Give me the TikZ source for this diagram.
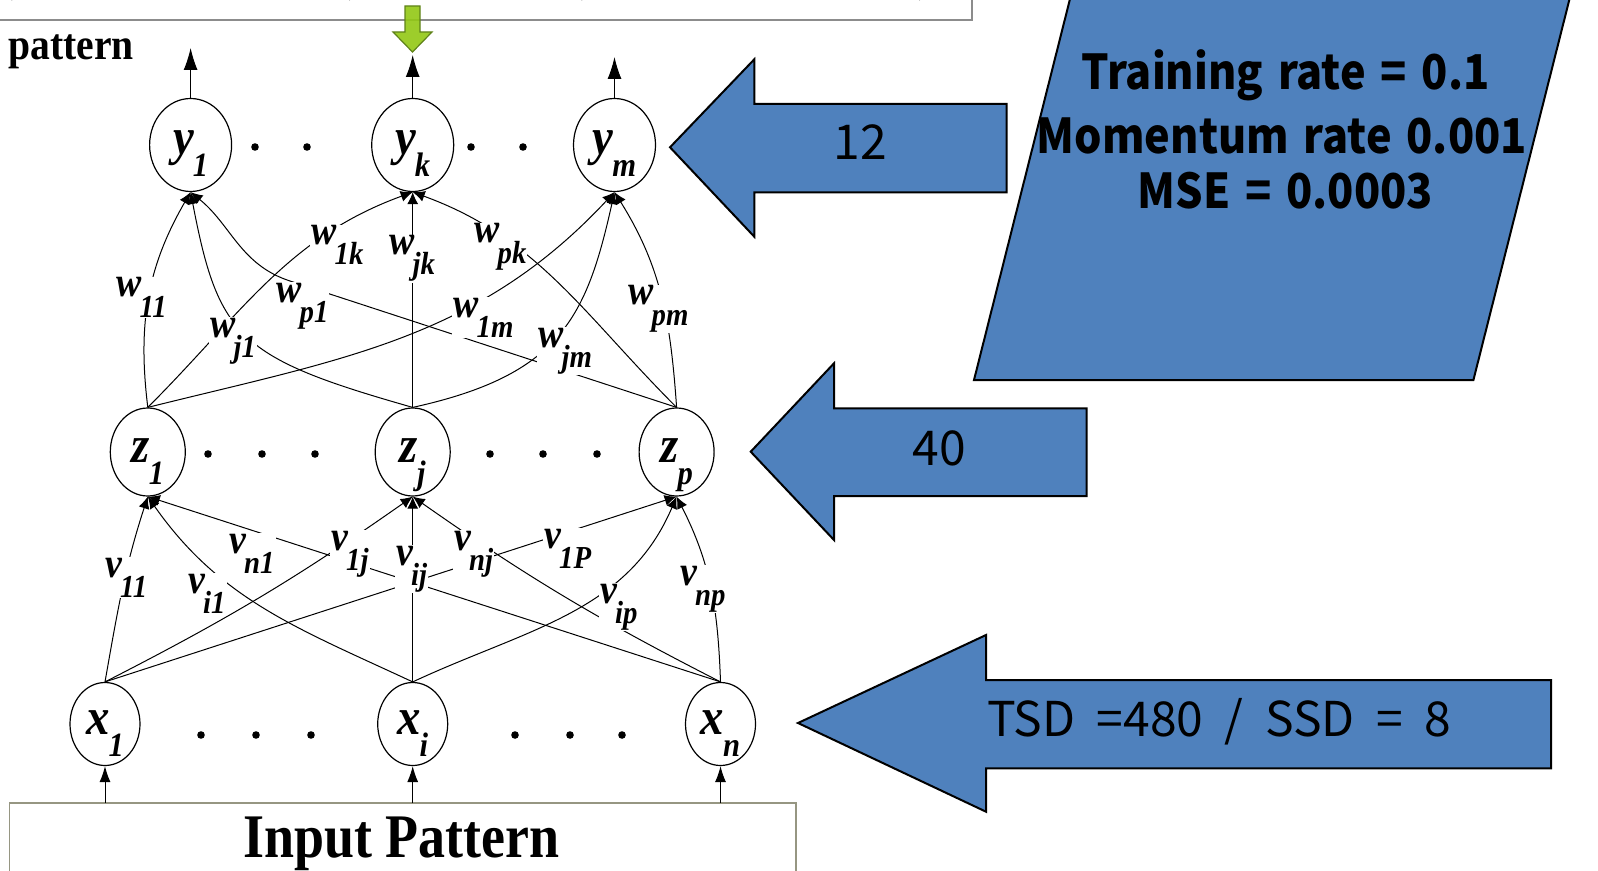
\documentclass[tikz,border=0pt]{standalone}
\usepackage{fontspec}
\setmainfont{Liberation Serif}[FakeStretch=0.9]
\newfontfamily\gothic{Noto Sans CJK JP}[FakeStretch=1.0, WordSpace=2]
\newfontfamily\gothicb{Noto Sans CJK JP}[FakeStretch=0.9, WordSpace=1.5]
\usetikzlibrary{arrows.meta,shapes.geometric}
\definecolor{officeblue}{RGB}{79,129,189}
\definecolor{limegreen}{RGB}{146,200,20}
\definecolor{limeedge}{RGB}{95,130,25}
\definecolor{boxgray}{RGB}{140,140,140}
\definecolor{inboxcol}{RGB}{150,150,130}
\newcommand\nlab[2]{{\fontsize{26}{26}\selectfont\bfseries\itshape #1}\kern-0.5pt\raisebox{-11pt}{\fontsize{17}{17}\selectfont\bfseries\itshape #2}}
\newcommand\elab[2]{{\fontsize{21}{21}\selectfont\bfseries\itshape #1}\kern-1pt\raisebox{-10pt}{\fontsize{16}{16}\selectfont\bfseries\itshape #2}}
\newcommand\cm{\hspace{7pt},}
\begin{document}
\begin{tikzpicture}[x=0.5pt,y=0.5pt,
  neuron/.style={draw, ellipse, line width=0.6pt, inner sep=0pt, text height=16pt, text depth=6pt},
  ynode/.style={neuron, minimum width=41pt, minimum height=46.5pt},
  znode/.style={neuron, minimum width=37.5pt, minimum height=44pt},
  xnode/.style={neuron, minimum width=35pt, minimum height=41.5pt},
  edge/.style={line width=0.5pt, -{Latex[length=6pt,width=5.5pt]}},
  outarrow/.style={line width=0.5pt, -{Latex[length=11pt,width=7pt]}},
  inarrow/.style={line width=0.5pt, -{Latex[length=8pt,width=5.5pt]}},
  wlab/.style={fill=white, inner sep=0.5pt, anchor=base west},
  blueshape/.style={fill=officeblue, draw=black, line width=1pt, line join=miter},
  gtext/.style={font=\gothic\fontsize{24}{24}\selectfont, anchor=base, inner sep=0pt},
  gbtext/.style={font=\gothicb\bfseries\fontsize{24}{24}\selectfont, anchor=base, inner sep=0pt},
  toptext/.style={anchor=base, inner sep=0pt, font=\fontsize{20}{20}\selectfont\itshape},
]
\useasboundingbox (0,0) rectangle (1598,-871);
\clip (0,0) rectangle (1598,-871);

% top box (cut off)
\draw[boxgray, line width=1.2pt] (-10,40) rectangle (972,-20);
\node[toptext] (topL) at (184,7) {(\cm\cm\cm\cm\cm\cm\cm\cm\cm\cm\cm\cm\cm\cm\hspace{7pt})};
\node[toptext] (topR) at (754,7) {(\cm\cm\cm\cm\cm\cm\cm\cm\cm\cm\cm\cm\cm\cm\hspace{7pt})};

\node[anchor=base west, inner sep=0pt, font=\fontsize{22}{22}\selectfont\bfseries] (pat) at (8,-60) {pattern};

% neurons
\node[ynode] (y1) at (190.6,-145) {\nlab{y}{1}};
\node[ynode] (yk) at (412.7,-145) {\nlab{y}{k}};
\node[ynode] (ym) at (614.5,-145) {\nlab{y}{m}};
\node[znode] (z1) at (147.8,-452) {\nlab{z}{1}};
\node[znode] (zj) at (412.7,-452) {\nlab{z}{j}};
\node[znode] (zp) at (676.6,-452) {\nlab{z}{p}};
\node[xnode] (x1) at (105,-724) {\nlab{x}{1}};
\node[xnode] (xi) at (412.7,-724) {\nlab{x}{i}};
\node[xnode] (xn) at (720.5,-724) {\nlab{x}{n}};

% dots
\foreach \px in {255,307} \fill (\px,-147) circle[radius=1.9pt];
\foreach \px in {471,523} \fill (\px,-147) circle[radius=1.9pt];
\foreach \px in {208,262,315,490,543,597} \fill (\px,-454) circle[radius=1.9pt];
\foreach \px in {201,256,311,515,570,622} \fill (\px,-735) circle[radius=1.9pt];

% edges x -> z
\draw[edge] (x1.north) to[out=80,in=-108] (z1.south);
\draw[edge] (xi.north) to[out=155,in=-55] (z1.south);
\draw[edge] (xn.north) -- (z1.south);
\draw[edge] (x1.north) to[bend right=4] (zj.south);
\draw[edge] (xi.north) -- (zj.south);
\draw[edge] (xn.north) to[bend left=4] (zj.south);
\draw[edge] (x1.north) -- (zp.south);
\draw[edge] (xi.north) to[out=25,in=-113] (zp.south);
\draw[edge] (xn.north) to[out=92,in=-63] (zp.south);

% edges z -> y
\draw[edge] (z1.north) to[out=97,in=-120] (y1.south);
\draw[edge] (zj.north) .. controls (239,-358) and (218.5,-338) .. (y1.south);
\coordinate (bp1) at (290,-281);
\draw[edge] (zp.north) -- (bp1) to[out=162,in=-39] (y1.south);
\draw[edge] (z1.north) to[out=45,in=-160] (yk.south);
\draw[edge] (zj.north) -- (yk.south);
\draw[edge] (zp.north) to[out=135,in=-20] (yk.south);
\draw[edge] (z1.north) to[out=14,in=-133] (ym.south);
\draw[edge] (zj.north) .. controls (560,-375) and (586.4,-318) .. (ym.south);
\draw[edge] (zp.north) to[out=94,in=-58] (ym.south);

% weight labels
\node[wlab] (w11) at (115,-297) {\elab{w}{11}};
\node[wlab] (wj1) at (209,-337) {\elab{w}{j1}};
\node[wlab] (wp1) at (275,-302) {\elab{w}{p1}};
\node[wlab] (w1k) at (310,-245) {\elab{w}{1k}};
\node[wlab] (wjk) at (388,-255) {\elab{w}{jk}};
\node[wlab] (wpk) at (473,-243) {\elab{w}{pk}};
\node[wlab] (w1m) at (452,-317) {\elab{w}{1m}};
\node[wlab] (wjm) at (537,-347) {\elab{w}{jm}};
\node[wlab] (wpm) at (627,-305) {\elab{w}{pm}};
\node[wlab] (v11) at (104,-577) {\elab{v}{11}};
\node[wlab] (vi1) at (187,-593) {\elab{v}{i1}};
\node[wlab] (vn1) at (228,-553) {\elab{v}{n1}};
\node[wlab] (v1j) at (330,-550) {\elab{v}{1j}};
\node[wlab] (vij) at (395,-565) {\elab{v}{ij}};
\node[wlab] (vnj) at (453,-550) {\elab{v}{nj}};
\node[wlab] (v1P) at (543,-548) {\elab{v}{1P}};
\node[wlab] (vip) at (599,-603) {\elab{v}{ip}};
\node[wlab] (vnp) at (679,-585) {\elab{v}{np}};

% output arrows
\coordinate (o1) at (190.6,-48);
\coordinate (ok) at (412.7,-55);
\coordinate (om) at (614.5,-57);
\draw[outarrow] (y1.north) -- (o1);
\draw[outarrow] (yk.north) -- (ok);
\draw[outarrow] (ym.north) -- (om);

% green arrow
\draw[fill=limegreen, draw=limeedge, line width=0.6pt, fill opacity=0.9] (405,-6) -- (420,-6) -- (420,-32) -- (432,-32) -- (412.5,-52) -- (393,-32) -- (405,-32) -- cycle;

% input box
\draw[inboxcol, line width=0.8pt] (9.4,-803) rectangle (796,-900);
\node[anchor=base, inner sep=0pt, font=\fontsize{31}{31}\selectfont\bfseries] (inp) at (401.5,-857) {\addfontfeature{FakeStretch=0.87}Input Pattern};
\coordinate (i1) at (105,-803);
\coordinate (ii) at (412.7,-803);
\coordinate (in) at (720.5,-803);
\draw[inarrow] (i1) -- (x1.south);
\draw[inarrow] (ii) -- (xi.south);
\draw[inarrow] (in) -- (xn.south);

% blue shapes
\draw[blueshape] (670,-147.3) -- (754.3,-59.3) -- (754.3,-104) -- (1006.7,-104) -- (1006.7,-192.3) -- (754.3,-192.3) -- (754.3,-236.7) -- cycle;
\node[gtext] (t12) at (860,-160) {12};
\draw[blueshape] (750.7,-451.7) -- (834,-363.3) -- (834,-408.3) -- (1086.7,-408.3) -- (1086.7,-496) -- (834,-496) -- (834,-540) -- cycle;
\node[gtext] (t40) at (939,-465) {40};
\draw[blueshape] (798,-723) -- (986,-635) -- (986,-680) -- (1551,-680) -- (1551,-768.3) -- (986,-768.3) -- (986,-811.7) -- cycle;
\node[gtext] (ttsd) at (1219,-736.7) {TSD =480 / SSD = 8};
\draw[blueshape] (974,-380) -- (1473.4,-380) -- (1570.5,5) -- (1071,5) -- cycle;
\node[gbtext] (tr1) at (1285.6,-90) {Training rate = 0.1};
\node[gbtext] (tr2) at (1282,-153.3) {Momentum rate 0.001};
\node[gbtext] (tr3) at (1285.5,-208.3) {MSE = 0.0003};
\end{tikzpicture}
\end{document}
